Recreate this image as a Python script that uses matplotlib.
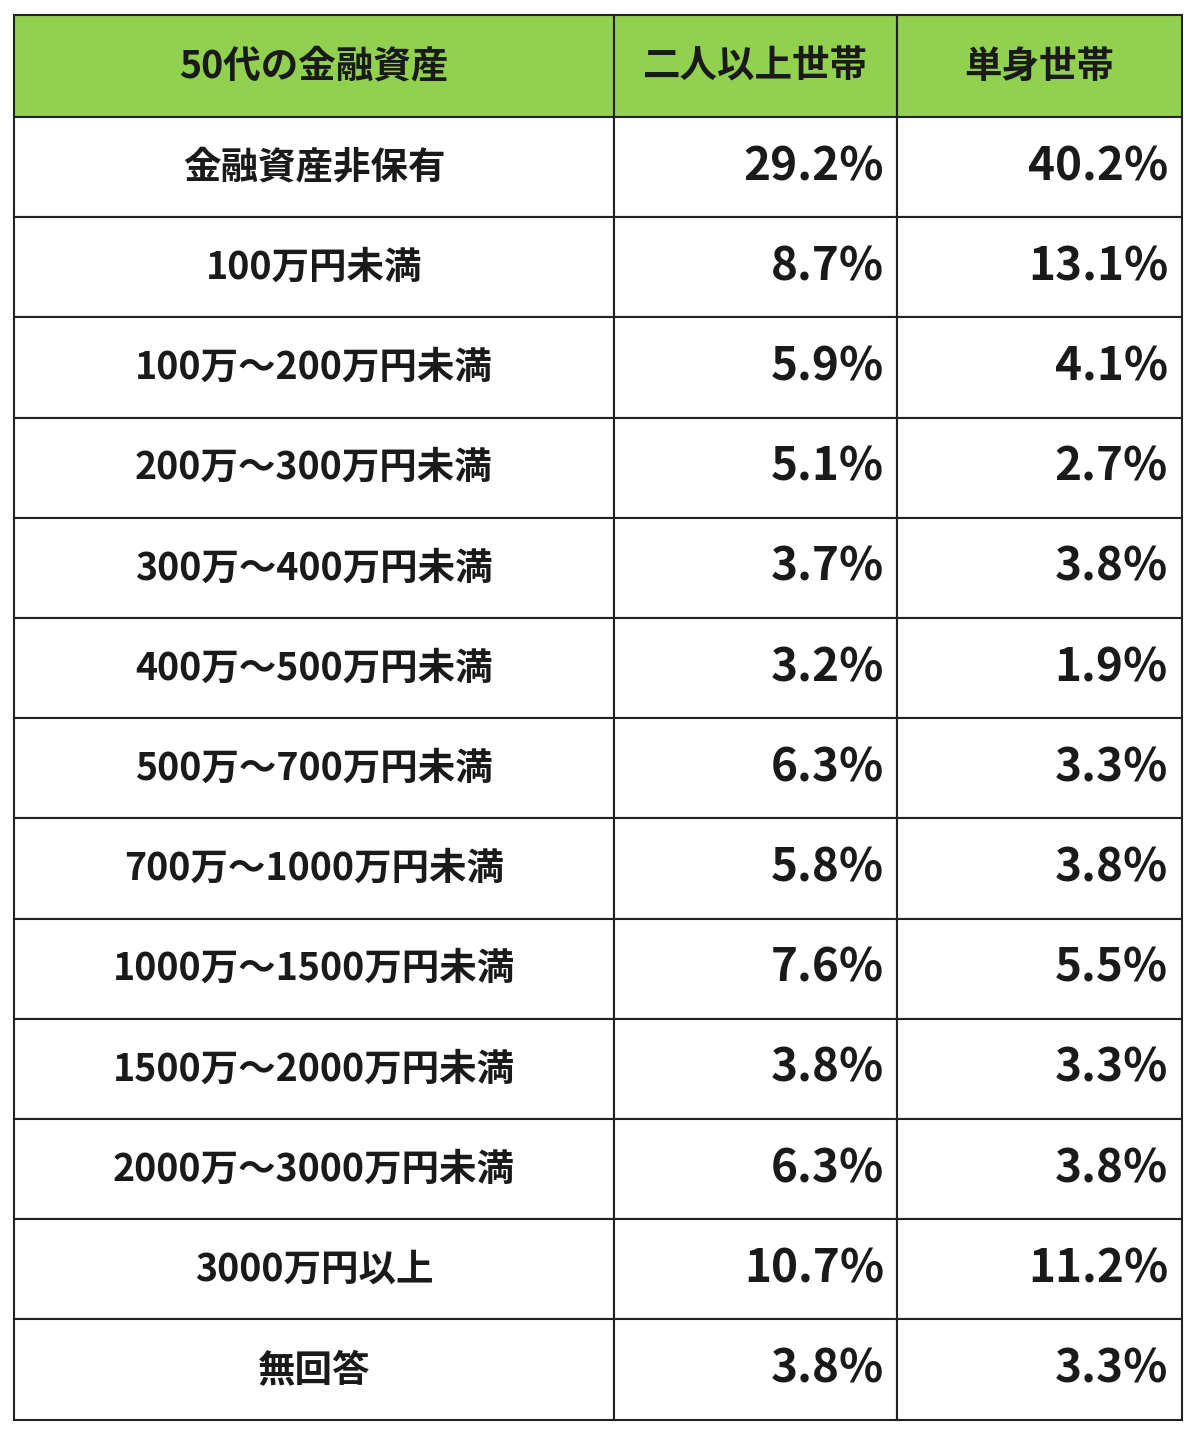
import matplotlib.pyplot as plt
from matplotlib.patches import Rectangle

plt.rcParams['font.family'] = ['Noto Sans CJK JP', 'DejaVu Sans']

headers = ["50代の金融資産", "二人以上世帯", "単身世帯"]
categories = ["金融資産非保有", "100万円未満", "100万～200万円未満", "200万～300万円未満",
              "300万～400万円未満", "400万～500万円未満", "500万～700万円未満",
              "700万～1000万円未満", "1000万～1500万円未満", "1500万～2000万円未満",
              "2000万～3000万円未満", "3000万円以上", "無回答"]
multi = ["29.2%", "8.7%", "5.9%", "5.1%", "3.7%", "3.2%", "6.3%",
         "5.8%", "7.6%", "3.8%", "6.3%", "10.7%", "3.8%"]
single = ["40.2%", "13.1%", "4.1%", "2.7%", "3.8%", "1.9%", "3.3%",
          "3.8%", "5.5%", "3.3%", "3.8%", "11.2%", "3.3%"]

# layout in pixels
col_edges = [14, 614, 897, 1182]
top, header_h, row_h = 15, 102, 100.2

fig = plt.figure(figsize=(12, 14.35), dpi=100)
ax = fig.add_axes([0, 0, 1, 1])
ax.set_xlim(0, 1200)
ax.set_ylim(1435, 0)
ax.axis('off')

# header
for i, h in enumerate(headers):
    x0, x1 = col_edges[i], col_edges[i + 1]
    ax.add_patch(Rectangle((x0, top), x1 - x0, header_h, facecolor='#92D050',
                           edgecolor='#222222', lw=1.5))
    ax.text((x0 + x1) / 2, top + header_h / 2, h, ha='center', va='center',
            fontsize=27, fontweight='bold', color='#1a1a1a')

# body
for r, cat in enumerate(categories):
    y0 = top + header_h + r * row_h
    for i in range(3):
        x0, x1 = col_edges[i], col_edges[i + 1]
        ax.add_patch(Rectangle((x0, y0), x1 - x0, row_h, facecolor='white',
                               edgecolor='#222222', lw=1.5))
    yc = y0 + row_h / 2
    ax.text((col_edges[0] + col_edges[1]) / 2, yc, cat, ha='center', va='center',
            fontsize=27, fontweight='bold', color='#1a1a1a')
    ax.text(col_edges[2] - 13, yc, multi[r], ha='right', va='center',
            fontsize=33, fontweight='bold', color='#1a1a1a')
    ax.text(col_edges[3] - 14, yc, single[r], ha='right', va='center',
            fontsize=33, fontweight='bold', color='#1a1a1a')

fig.savefig('out.png', dpi=100, facecolor='white')
